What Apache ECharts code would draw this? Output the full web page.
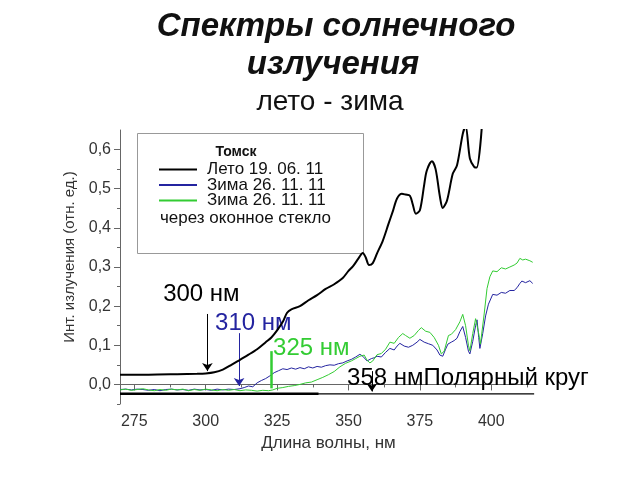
<!DOCTYPE html>
<html>
<head>
<meta charset="utf-8">
<script src="https://cdn.jsdelivr.net/npm/echarts@6/dist/echarts.min.js"></script>
<style>html,body{margin:0;padding:0;background:#fff}#c{width:640px;height:480px}</style>
</head>
<body>
<div id="c"></div>
<script>
var titleLines = ['Спектры солнечного', 'излучения', 'лето - зима'];
var seriesNames = ['Лето 19. 06. 11', 'Зима 26. 11. 11', 'Зима 26. 11. 11 '];
var xLabelValues = [275, 300, 325, 350, 375, 400];
var xMinorValues = [287.5, 312.5, 337.5, 362.5, 387.5, 412.5];
var yLabelValues = [0, 0.1, 0.2, 0.3, 0.4, 0.5, 0.6];
var yMinorValues = [-0.05, 0.05, 0.15, 0.25, 0.35, 0.45, 0.55];

var summer = [[270,0.025],[280,0.025],[290,0.026],[297,0.027],[300,0.028],[303,0.031],[306,0.038],[309,0.05],[312,0.063],[315,0.076],[318,0.09],[321,0.108],[323,0.12],[325,0.138],[327,0.16],[328.5,0.183],[330,0.192],[333,0.2],[336,0.215],[339,0.228],[342,0.244],[345,0.256],[348,0.272],[350,0.29],[351.6,0.302],[353.5,0.322],[355,0.336],[356,0.325],[357.2,0.305],[358.5,0.31],[360,0.335],[362,0.367],[364,0.41],[365.6,0.444],[367,0.475],[368.7,0.487],[370,0.485],[371.5,0.482],[372.5,0.46],[373.6,0.436],[375,0.445],[376.5,0.51],[377.4,0.546],[379.2,0.57],[380.5,0.55],[382,0.48],[383,0.451],[384.5,0.47],[386.5,0.538],[388,0.56],[390,0.64],[391,0.66],[392.5,0.577],[394,0.556],[394.9,0.554],[396.7,0.66]];

var winter = [[270,-0.013],[272,-0.012],[274,-0.014],[276,-0.012],[278,-0.013],[280,-0.015],[282,-0.013],[284,-0.016],[286,-0.013],[288,-0.012],[290,-0.014],[292,-0.013],[294,-0.015],[296,-0.012],[298,-0.014],[300,-0.013],[302,-0.015],[304,-0.012],[306,-0.014],[308,-0.012],[310,-0.013],[312,-0.011],[313.5,-0.008],[315,-0.004],[316.5,-0.006],[318,0.004],[319.5,0.01],[321,0.015],[322.5,0.022],[324,0.03],[325.5,0.035],[327,0.04],[328.5,0.038],[330,0.042],[331.5,0.039],[333,0.043],[334.5,0.04],[336,0.045],[337.5,0.042],[339,0.046],[340.5,0.044],[342,0.048],[343.5,0.05],[345,0.049],[346.5,0.053],[348,0.055],[349.5,0.06],[351,0.064],[352.5,0.07],[354,0.077],[355,0.072],[356.5,0.06],[358,0.066],[359,0.068],[360,0.072],[361.5,0.07],[363,0.082],[364.5,0.092],[366,0.088],[367,0.098],[368,0.105],[369.5,0.098],[371,0.095],[372.5,0.1],[374,0.108],[375,0.115],[376.5,0.108],[378,0.104],[379.5,0.1],[381,0.088],[382,0.075],[383,0.072],[384,0.09],[384.8,0.103],[386,0.108],[387,0.112],[388,0.118],[389,0.135],[390,0.148],[391,0.12],[392,0.085],[392.5,0.078],[393.5,0.11],[394.5,0.15],[395,0.165],[395.6,0.12],[396,0.092],[397,0.13],[398,0.175],[399,0.205],[400.5,0.23],[402,0.228],[403.5,0.235],[405,0.233],[406.5,0.24],[408,0.24],[409,0.247],[410,0.258],[410.7,0.264],[412,0.26],[413.5,0.265],[414.5,0.258]];

var winterGlass = [[270,-0.014],[272,-0.012],[274,-0.015],[276,-0.013],[278,-0.011],[280,-0.014],[282,-0.016],[284,-0.013],[286,-0.015],[288,-0.012],[290,-0.014],[292,-0.012],[294,-0.016],[296,-0.013],[298,-0.015],[300,-0.012],[302,-0.014],[304,-0.016],[306,-0.013],[308,-0.015],[310,-0.013],[312,-0.016],[314,-0.014],[316,-0.015],[318,-0.017],[320,-0.015],[322,-0.016],[323.5,-0.014],[325,-0.01],[327,-0.008],[329,-0.005],[331,-0.003],[333,0.0],[335,0.004],[337,0.006],[339,0.012],[341,0.018],[343,0.025],[345,0.033],[347,0.045],[349,0.054],[351,0.06],[352.5,0.066],[354,0.072],[355.5,0.075],[356.5,0.062],[357.5,0.055],[358.5,0.06],[360,0.076],[361.5,0.079],[363,0.09],[364.5,0.108],[366,0.105],[367.5,0.12],[369,0.13],[370,0.125],[371.5,0.118],[373,0.125],[374.5,0.138],[375.5,0.145],[377,0.136],[378.5,0.133],[380,0.12],[381.5,0.1],[382.5,0.078],[383.5,0.085],[385,0.125],[386,0.128],[387.5,0.14],[389,0.16],[390,0.179],[391,0.15],[392,0.1],[392.5,0.086],[393.5,0.13],[394.5,0.168],[395,0.17],[395.6,0.13],[396.2,0.103],[397.5,0.18],[398.5,0.245],[399.5,0.275],[400.5,0.29],[402,0.288],[403.5,0.298],[405,0.295],[406.5,0.3],[408,0.305],[409,0.31],[410,0.322],[411,0.318],[412,0.32],[413.5,0.316],[414.5,0.312]];

var polarThick = [[270,-0.024],[339.5,-0.024]];
var polarThin = [[270,-0.024],[415,-0.024]];

var FONT = 'Liberation Sans, Arial, sans-serif';
var BLUE = '#2424a0';
var GREEN = '#33cc33';

var chart = echarts.init(document.getElementById('c'), null, {renderer: 'canvas'});

function arrow(x, y1, y2, color, width, head) {
  return {
    silent: true,
    symbol: ['none', head ? 'arrow' : 'none'],
    symbolSize: head || 4,
    label: {show: false},
    lineStyle: {color: color, width: width, type: 'solid'},
    itemStyle: {color: color},
    emphasis: {disabled: true},
    data: [[{coord: [x, y1]}, {coord: [x, y2]}]]
  };
}
function note(x, y, text, color) {
  return {
    silent: true,
    symbol: 'circle',
    symbolSize: 0,
    label: {show: true, position: 'right', distance: 0, formatter: text, color: color, fontSize: 24, fontFamily: FONT},
    data: [{coord: [x, y]}]
  };
}

var option = {
  animation: false,
  backgroundColor: '#fff',
  grid: {left: 120, right: 103, top: 130, bottom: 76},
  xAxis: [{
    type: 'value', min: 270, max: 416, position: 'bottom',
    name: 'Длина волны, нм', nameLocation: 'middle', nameGap: 30,
    nameTextStyle: {fontSize: 17, color: '#333', fontFamily: FONT},
    axisLine: {show: true, lineStyle: {color: '#666', width: 1}},
    axisTick: {show: true, length: 6, inside: false, customValues: xLabelValues, lineStyle: {color: '#666'}},
    axisLabel: {show: true, customValues: xLabelValues, fontSize: 16, color: '#333', margin: 10, fontFamily: FONT},
    splitLine: {show: false}
  }, {
    type: 'value', min: 270, max: 416, position: 'bottom', gridIndex: 0,
    axisLine: {show: false},
    axisTick: {show: true, length: 3, customValues: xMinorValues, lineStyle: {color: '#666'}},
    axisLabel: {show: false},
    splitLine: {show: false}
  }],
  yAxis: [{
    type: 'value', min: -0.05, max: 0.65, position: 'left',
    name: 'Инт. излучения (отн. ед.)', nameLocation: 'middle', nameGap: 34, nameRotate: 90,
    nameTextStyle: {fontSize: 15, color: '#333', fontFamily: FONT, padding: [0, 0, 0, 20]},
    axisLine: {show: true, lineStyle: {color: '#666', width: 1}},
    axisTick: {show: true, length: 6, customValues: yLabelValues, lineStyle: {color: '#666'}},
    axisLabel: {show: true, customValues: yLabelValues, fontSize: 16, color: '#333', margin: 9, fontFamily: FONT,
      formatter: function (v) { return v.toFixed(1).replace('.', ','); }},
    splitLine: {show: false}
  }, {
    type: 'value', min: -0.05, max: 0.65, position: 'left', gridIndex: 0,
    axisLine: {show: false},
    axisTick: {show: true, length: 3, customValues: yMinorValues, lineStyle: {color: '#666'}},
    axisLabel: {show: false},
    splitLine: {show: false}
  }],
  legend: {
    show: true, orient: 'vertical', left: 159, top: 161, padding: 0,
    data: seriesNames,
    icon: 'rect',
    itemWidth: 38, itemHeight: 2, itemGap: -1.5,
    selectedMode: false,
    formatter: function (n) { return n.trim(); },
    textStyle: {fontSize: 17, color: '#111', fontFamily: FONT, lineHeight: 15.5, padding: [0, 0, 0, 5]}
  },
  graphic: [
    {type: 'text', x: 336, y: 27, style: {text: titleLines[0], font: 'italic bold 33px ' + FONT, fill: '#111', align: 'center', verticalAlign: 'middle'}},
    {type: 'text', x: 333, y: 65, style: {text: titleLines[1], font: 'italic bold 33px ' + FONT, fill: '#111', align: 'center', verticalAlign: 'middle'}},
    {type: 'text', x: 330, y: 102, style: {text: titleLines[2], font: '28px ' + FONT, fill: '#111', align: 'center', verticalAlign: 'middle'}},
    {type: 'rect', shape: {x: 137.5, y: 133.5, width: 226, height: 120}, style: {fill: 'none', stroke: '#999', lineWidth: 1}, z: 0},
    {type: 'text', x: 236, y: 152, style: {text: 'Томск', font: 'bold 14px ' + FONT, fill: '#111', align: 'center', verticalAlign: 'middle'}},
    {type: 'text', x: 160, y: 218, style: {text: 'через оконное стекло', font: '17px ' + FONT, fill: '#111', align: 'left', verticalAlign: 'middle'}}
  ],
  series: [
    {
      name: seriesNames[0], type: 'line', data: summer, showSymbol: false, symbol: 'none', smooth: 0.3,
      lineStyle: {color: '#000', width: 2}, itemStyle: {color: '#000'}, z: 5,
      markLine: arrow(300.6, 0.18, 0.034, '#000', 1, 8),
      markPoint: note(285.1, 0.231, '300 нм', '#000')
    },
    {
      name: seriesNames[1], type: 'line', data: winter, showSymbol: false, symbol: 'none',
      lineStyle: {color: BLUE, width: 1}, itemStyle: {color: BLUE}, z: 3,
      markLine: arrow(311.7, 0.131, -0.004, BLUE, 1, 8),
      markPoint: note(303.3, 0.156, '310 нм', BLUE)
    },
    {
      name: seriesNames[2], type: 'line', data: winterGlass, showSymbol: false, symbol: 'none',
      lineStyle: {color: GREEN, width: 1}, itemStyle: {color: GREEN}, z: 4,
      markLine: arrow(322.9, 0.085, -0.01, GREEN, 2.5, 0),
      markPoint: note(323.6, 0.092, '325 нм', GREEN)
    },
    {
      name: 'Полярный круг', type: 'line', data: polarThick, showSymbol: false, symbol: 'none',
      lineStyle: {color: '#000', width: 2.5}, z: 2
    },
    {
      name: 'Полярный круг (2)', type: 'line', data: polarThin, showSymbol: false, symbol: 'none',
      lineStyle: {color: '#000', width: 1.2}, z: 2,
      markLine: arrow(358.2, 0.034, -0.018, '#000', 1, 8),
      markPoint: note(349.5, 0.015, '358 нмПолярный круг', '#000')
    }
  ]
};
chart.setOption(option);
</script>
</body>
</html>
